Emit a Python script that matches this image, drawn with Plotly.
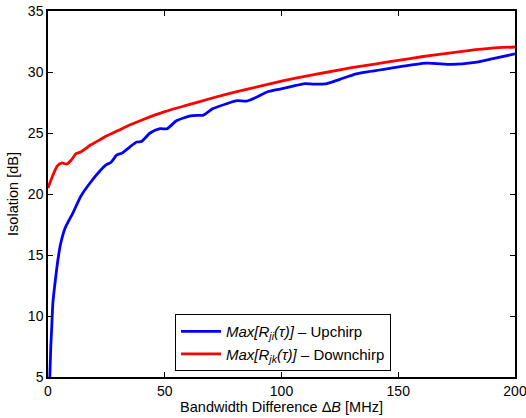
import plotly.graph_objects as go

# Data
red_x = [0, 2, 4, 6, 8, 10, 12, 14, 16, 18, 20, 25, 30, 35, 40, 50, 60, 70, 80, 90,
         100, 110, 120, 130, 140, 150, 160, 170, 180, 190, 200]
red_y = [20.5, 21.5, 22.3, 22.55, 22.45, 22.8, 23.3, 23.45, 23.7, 24.0, 24.2, 24.75, 25.2,
         25.65, 26.05, 26.75, 27.3, 27.85, 28.35, 28.8, 29.25, 29.65, 30.0, 30.35, 30.65,
         30.95, 31.25, 31.5, 31.75, 31.95, 32.05]

blue_x = [0.6, 1.2, 1.6, 2.1, 3, 4.4, 5.5, 7.3, 10.8, 14, 18, 22.3, 25, 27, 29.5, 31.7, 35,
          38, 40, 43.7, 48, 51, 55, 61, 64, 66.4, 70.7, 76.5, 81, 85, 89.5, 93.8, 99.4,
          104, 110, 113.7, 119.5, 125, 132, 146.5, 162, 173, 182, 190.6, 200]
blue_y = [4.0, 7.5, 9.1, 11.1, 12.7, 14.8, 16.0, 17.2, 18.5, 19.8, 20.9, 21.9, 22.4, 22.6,
          23.2, 23.35, 23.85, 24.26, 24.3, 25.0, 25.35, 25.35, 26.0, 26.4, 26.45, 26.45,
          27.0, 27.4, 27.65, 27.62, 27.95, 28.36, 28.6, 28.8, 29.05, 29.0, 29.05, 29.4,
          29.85, 30.3, 30.72, 30.62, 30.76, 31.1, 31.48]

x_ticks = [0, 50, 100, 150, 200]
y_ticks = [5, 10, 15, 20, 25, 30, 35]

FONT = "Liberation Sans, Arial, sans-serif"

fig = go.Figure()
fig.add_trace(go.Scatter(
    x=blue_x, y=blue_y, mode="lines",
    line=dict(color="#0000ff", width=2.8, shape="spline", smoothing=0.6),
    name="<i>Max[R<sub>ji</sub>(τ)]</i> – Upchirp  "))
fig.add_trace(go.Scatter(
    x=red_x, y=red_y, mode="lines",
    line=dict(color="#ff0000", width=2.8, shape="spline", smoothing=0.6),
    name="<i>Max[R<sub>jk</sub>(τ)]</i> – Downchirp"))

axis_common = dict(
    showline=True, linecolor="black", linewidth=1.5, mirror="ticks",
    ticks="inside", ticklen=5, tickcolor="black", tickwidth=1,
    showgrid=False, zeroline=False, automargin=False,
    ticklabeloverflow="allow",
    tickfont=dict(family=FONT, size=14, color="black"),
)

fig.update_xaxes(range=[0, 200], tickvals=x_ticks,
                 title=dict(text="Bandwidth Difference Δ<i>B</i> [MHz]",
                            font=dict(family=FONT, size=14.5, color="black"), standoff=3),
                 **axis_common)
fig.update_yaxes(range=[5, 35], tickvals=y_ticks,
                 title=dict(text="Isolation [dB]",
                            font=dict(family=FONT, size=14.5, color="black"), standoff=6),
                 **axis_common)

fig.update_layout(
    width=526, height=418,
    margin=dict(l=48, r=11, t=11, b=41),
    paper_bgcolor="white", plot_bgcolor="white",
    font=dict(family=FONT, size=13, color="black"),
    legend=dict(x=0.272, y=0.172, xanchor="left", yanchor="top",
                bgcolor="white", bordercolor="black", borderwidth=1,
                font=dict(family=FONT, size=15, color="black"),
                itemwidth=40, tracegroupgap=0),
)

fig.write_html("out.html",
               config={"displayModeBar": False},
               post_script="document.body.style.margin='0';document.body.style.padding='0';")
